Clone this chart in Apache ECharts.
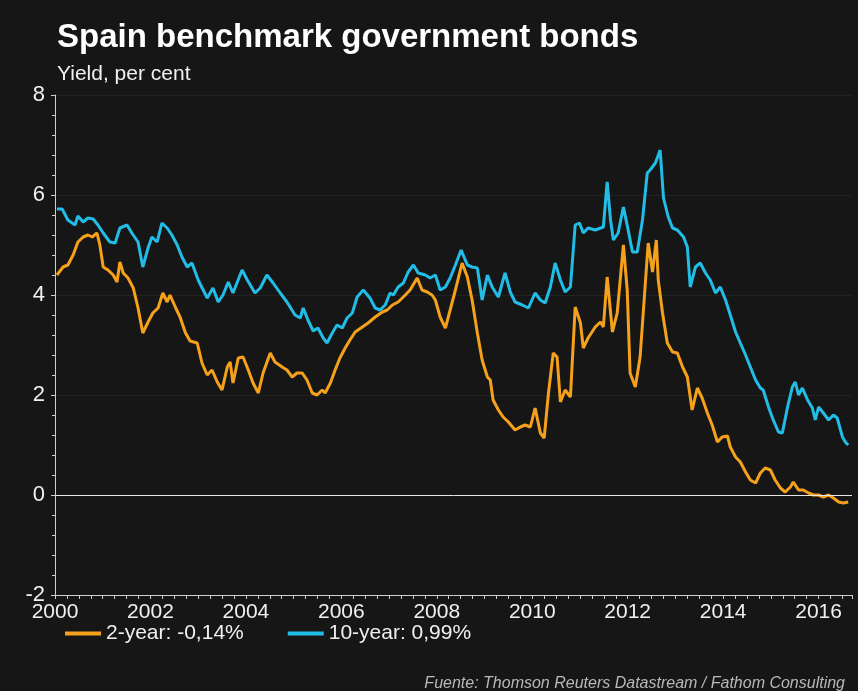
<!DOCTYPE html>
<html>
<head>
<meta charset="utf-8">
<title>Spain benchmark government bonds</title>
<script src="https://cdn.jsdelivr.net/npm/echarts@6/dist/echarts.min.js"></script>
<style>
  html, body { margin: 0; padding: 0; background: #161616; }
  #chart { width: 858px; height: 691px; }
</style>
</head>
<body>
<div id="chart"></div>
<script>
// 2-year yield, per cent (decimal years)
const twoYearDates = [
  2000.04, 2000.17, 2000.27, 2000.38, 2000.48, 2000.59, 2000.69, 2000.78, 2000.88, 2000.94,
  2001.01, 2001.11, 2001.22, 2001.30, 2001.36, 2001.43, 2001.53, 2001.64, 2001.74, 2001.84,
  2001.95, 2002.05, 2002.16, 2002.26, 2002.35, 2002.41, 2002.52, 2002.62, 2002.73, 2002.83,
  2002.98, 2003.08, 2003.19, 2003.29, 2003.40, 2003.50, 2003.61, 2003.67, 2003.73, 2003.84,
  2003.94, 2004.05, 2004.15, 2004.26, 2004.36, 2004.51, 2004.61, 2004.76, 2004.86, 2004.97,
  2005.07, 2005.18, 2005.28, 2005.39, 2005.49, 2005.60, 2005.66, 2005.77, 2005.87, 2005.97,
  2006.08, 2006.18, 2006.29, 2006.44, 2006.56, 2006.71, 2006.86, 2006.96, 2007.07, 2007.19,
  2007.34, 2007.44, 2007.59, 2007.69, 2007.80, 2007.90, 2007.97, 2008.07, 2008.18, 2008.28,
  2008.39, 2008.53, 2008.64, 2008.74, 2008.85, 2008.95, 2009.06, 2009.12, 2009.18, 2009.29,
  2009.39, 2009.50, 2009.64, 2009.75, 2009.85, 2009.96, 2010.06, 2010.17, 2010.25, 2010.34,
  2010.44, 2010.52, 2010.59, 2010.69, 2010.80, 2010.90, 2011.01, 2011.07, 2011.17, 2011.32,
  2011.43, 2011.49, 2011.57, 2011.68, 2011.78, 2011.91, 2011.99, 2012.05, 2012.16, 2012.26,
  2012.37, 2012.43, 2012.52, 2012.60, 2012.64, 2012.73, 2012.83, 2012.94, 2013.04, 2013.15,
  2013.25, 2013.35, 2013.46, 2013.56, 2013.67, 2013.77, 2013.88, 2013.98, 2014.09, 2014.15,
  2014.26, 2014.36, 2014.47, 2014.57, 2014.68, 2014.78, 2014.88, 2014.99, 2015.09, 2015.20,
  2015.30, 2015.41, 2015.47, 2015.58, 2015.68, 2015.79, 2015.89, 2016.00, 2016.10, 2016.21,
  2016.31, 2016.42, 2016.52, 2016.62
];
const twoYearValues = [
  4.40, 4.56, 4.60, 4.80, 5.06, 5.16, 5.20, 5.16, 5.24, 5.00,
  4.56, 4.50, 4.40, 4.26, 4.66, 4.44, 4.34, 4.14, 3.74, 3.24,
  3.46, 3.64, 3.74, 4.04, 3.86, 4.00, 3.76, 3.56, 3.25, 3.08,
  3.04, 2.64, 2.40, 2.50, 2.26, 2.10, 2.56, 2.66, 2.24, 2.74,
  2.76, 2.50, 2.24, 2.04, 2.44, 2.84, 2.66, 2.56, 2.50, 2.36,
  2.44, 2.44, 2.30, 2.04, 2.00, 2.10, 2.04, 2.24, 2.50, 2.74,
  2.94, 3.10, 3.26, 3.36, 3.44, 3.56, 3.66, 3.70, 3.80, 3.86,
  4.00, 4.10, 4.34, 4.10, 4.06, 4.00, 3.90, 3.56, 3.34, 3.70,
  4.10, 4.64, 4.36, 3.90, 3.24, 2.70, 2.36, 2.30, 1.90, 1.70,
  1.56, 1.46, 1.30, 1.36, 1.40, 1.36, 1.74, 1.24, 1.14, 2.04,
  2.84, 2.76, 1.86, 2.10, 1.96, 3.76, 3.44, 2.94, 3.14, 3.36,
  3.46, 3.36, 4.36, 3.26, 3.64, 5.00, 4.10, 2.44, 2.16, 2.76,
  4.24, 5.04, 4.46, 5.10, 4.30, 3.64, 3.04, 2.86, 2.84, 2.56,
  2.36, 1.70, 2.14, 1.94, 1.64, 1.40, 1.06, 1.16, 1.18, 0.96,
  0.76, 0.66, 0.46, 0.30, 0.24, 0.44, 0.54, 0.50, 0.30, 0.14,
  0.06, 0.16, 0.26, 0.10, 0.10, 0.04, 0.00, 0.00, -0.04, 0.00,
  -0.06, -0.14, -0.16, -0.14
];

// 10-year yield, per cent (decimal years)
const tenYearDates = [
  2000.04, 2000.15, 2000.27, 2000.42, 2000.48, 2000.59, 2000.69, 2000.80, 2000.90, 2001.01,
  2001.15, 2001.26, 2001.36, 2001.51, 2001.61, 2001.74, 2001.84, 2001.95, 2002.03, 2002.14,
  2002.24, 2002.35, 2002.45, 2002.56, 2002.66, 2002.77, 2002.87, 2003.00, 2003.19, 2003.31,
  2003.42, 2003.52, 2003.63, 2003.73, 2003.92, 2004.03, 2004.19, 2004.30, 2004.44, 2004.57,
  2004.72, 2004.86, 2005.03, 2005.14, 2005.20, 2005.30, 2005.41, 2005.51, 2005.62, 2005.70,
  2005.81, 2005.91, 2006.02, 2006.12, 2006.23, 2006.33, 2006.46, 2006.60, 2006.71, 2006.81,
  2006.92, 2007.02, 2007.09, 2007.19, 2007.30, 2007.40, 2007.51, 2007.61, 2007.76, 2007.86,
  2007.97, 2008.07, 2008.18, 2008.28, 2008.39, 2008.51, 2008.64, 2008.74, 2008.85, 2008.95,
  2009.06, 2009.16, 2009.29, 2009.43, 2009.54, 2009.64, 2009.79, 2009.92, 2010.06, 2010.17,
  2010.27, 2010.38, 2010.48, 2010.59, 2010.69, 2010.80, 2010.90, 2010.99, 2011.07, 2011.17,
  2011.32, 2011.49, 2011.57, 2011.64, 2011.70, 2011.80, 2011.91, 2012.01, 2012.10, 2012.20,
  2012.31, 2012.41, 2012.47, 2012.58, 2012.68, 2012.75, 2012.85, 2012.94, 2013.04, 2013.17,
  2013.25, 2013.31, 2013.42, 2013.52, 2013.63, 2013.73, 2013.84, 2013.94, 2014.05, 2014.15,
  2014.26, 2014.36, 2014.47, 2014.57, 2014.68, 2014.78, 2014.84, 2014.95, 2015.05, 2015.16,
  2015.24, 2015.35, 2015.45, 2015.51, 2015.58, 2015.66, 2015.77, 2015.87, 2015.93, 2016.00,
  2016.10, 2016.21, 2016.31, 2016.39, 2016.50, 2016.56, 2016.62
];
const tenYearValues = [
  5.72, 5.72, 5.50, 5.40, 5.58, 5.46, 5.54, 5.52, 5.40, 5.24,
  5.06, 5.04, 5.34, 5.40, 5.24, 5.06, 4.56, 4.94, 5.16, 5.06,
  5.44, 5.34, 5.20, 5.00, 4.76, 4.56, 4.64, 4.30, 3.94, 4.14,
  3.86, 4.00, 4.26, 4.04, 4.50, 4.30, 4.04, 4.14, 4.40, 4.24,
  4.04, 3.86, 3.60, 3.54, 3.74, 3.50, 3.28, 3.34, 3.14, 3.04,
  3.24, 3.40, 3.34, 3.54, 3.64, 3.96, 4.10, 3.94, 3.74, 3.70,
  3.80, 4.04, 4.00, 4.16, 4.24, 4.46, 4.60, 4.44, 4.40, 4.34,
  4.40, 4.10, 4.16, 4.34, 4.60, 4.90, 4.60, 4.56, 4.54, 3.90,
  4.40, 4.16, 3.96, 4.44, 4.06, 3.86, 3.80, 3.74, 4.04, 3.90,
  3.84, 4.16, 4.64, 4.30, 4.06, 4.16, 5.40, 5.44, 5.24, 5.34,
  5.30, 5.36, 6.26, 5.50, 5.10, 5.24, 5.76, 5.30, 4.86, 4.86,
  5.50, 6.44, 6.50, 6.64, 6.90, 5.94, 5.56, 5.34, 5.30, 5.16,
  4.96, 4.16, 4.56, 4.64, 4.44, 4.30, 4.04, 4.16, 3.90, 3.60,
  3.26, 3.04, 2.80, 2.56, 2.30, 2.14, 2.10, 1.76, 1.50, 1.26,
  1.24, 1.76, 2.16, 2.26, 2.00, 2.14, 1.90, 1.74, 1.50, 1.76,
  1.64, 1.50, 1.60, 1.54, 1.16, 1.06, 1.00
];

const yTicks = { min: -2, max: 8, step: 2 };
const xTicks = { min: 2000, max: 2016.7, step: 2 };
const seriesNames = ['2-year: -0,14%', '10-year: 0,99%'];
const seriesColors = ['#f5a11c', '#22bde6'];
const sourceNote = 'Fuente: Thomson Reuters Datastream / Fathom Consulting';

const font = "'Liberation Sans', Arial, sans-serif";

const zip = (xs, ys) => xs.map((x, i) => [x, ys[i]]);

const chart = echarts.init(document.getElementById('chart'), null, { renderer: 'canvas' });

const option = {
  backgroundColor: '#161616',
  animation: false,
  title: [
    {
      text: 'Spain benchmark government bonds',
      left: 52,
      top: 16,
      textStyle: { color: '#ffffff', fontSize: 33, fontWeight: 'bold', fontFamily: font }
    },
    {
      text: 'Yield, per cent',
      left: 52,
      top: 59,
      textStyle: { color: '#f0f0f0', fontSize: 21, fontWeight: 'normal', fontFamily: font }
    },
    {
      text: sourceNote,
      right: 8,
      top: 671,
      textStyle: { color: '#b8b8b8', fontSize: 16, fontStyle: 'italic', fontWeight: 'normal', fontFamily: font }
    }
  ],
  legend: {
    left: 60,
    top: 618,
    icon: 'rect',
    itemWidth: 36,
    itemHeight: 4,
    itemGap: 44,
    textStyle: { color: '#f0f0f0', fontSize: 21, fontFamily: font },
    data: seriesNames
  },
  grid: { left: 55, right: 6, top: 95, bottom: 96 },
  xAxis: {
    type: 'value',
    min: xTicks.min,
    max: xTicks.max,
    interval: xTicks.step,
    axisLine: { show: true, onZero: false, lineStyle: { color: '#cfcfcf', width: 1 } },
    axisTick: { show: true, length: 4, lineStyle: { color: '#cfcfcf' } },
    minorTick: { show: true, splitNumber: 8, length: 4, lineStyle: { color: '#cfcfcf' } },
    splitLine: { show: false },
    axisLabel: {
      color: '#f0f0f0',
      fontSize: 21,
      fontFamily: font,
      margin: 7,
      showMaxLabel: false,
      formatter: v => (v % 2 === 0 ? String(v) : '')
    }
  },
  yAxis: {
    type: 'value',
    min: yTicks.min,
    max: yTicks.max,
    interval: yTicks.step,
    axisLine: { show: true, lineStyle: { color: '#cfcfcf', width: 1 } },
    axisTick: { show: true, length: 4, lineStyle: { color: '#cfcfcf' } },
    minorTick: { show: true, splitNumber: 5, length: 3, lineStyle: { color: '#cfcfcf' } },
    splitLine: { show: true, lineStyle: { color: '#222222', width: 1 } },
    axisLabel: { color: '#f0f0f0', fontSize: 22, fontFamily: font, margin: 10 }
  },
  series: [
    {
      name: seriesNames[0],
      type: 'line',
      data: zip(twoYearDates, twoYearValues),
      showSymbol: false,
      color: seriesColors[0],
      lineStyle: { width: 3, color: seriesColors[0] },
      z: 3
    },
    {
      name: seriesNames[1],
      type: 'line',
      data: zip(tenYearDates, tenYearValues),
      showSymbol: false,
      color: seriesColors[1],
      lineStyle: { width: 3, color: seriesColors[1] },
      z: 2,
      markLine: {
        silent: true,
        symbol: 'none',
        label: { show: false },
        lineStyle: { color: '#e6e6e6', width: 1, type: 'solid' },
        data: [{ yAxis: 0 }]
      }
    }
  ]
};

chart.setOption(option);
</script>
</body>
</html>
